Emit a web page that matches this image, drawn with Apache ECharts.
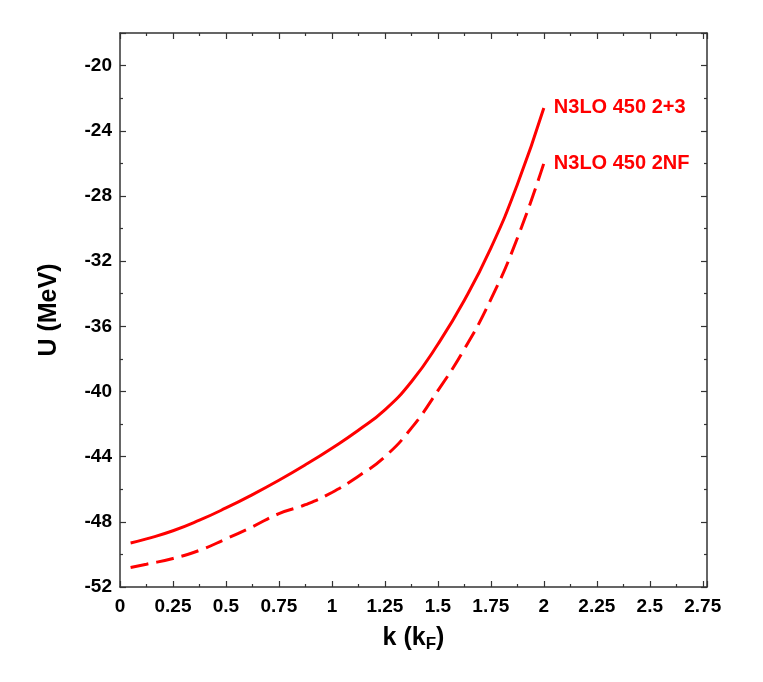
<!DOCTYPE html>
<html>
<head>
<meta charset="utf-8">
<script src="https://cdn.jsdelivr.net/npm/echarts@6/dist/echarts.min.js"></script>
<style>
  html, body { margin: 0; padding: 0; background: #fff; }
  #chart { width: 763px; height: 682px; }
</style>
</head>
<body>
<div id="chart"></div>
<script>
// k in units of k_F, U in MeV
var kSolid = [0.05, 0.125, 0.25, 0.375, 0.5, 0.625, 0.75, 0.875, 1.0, 1.125, 1.25, 1.375, 1.5, 1.625, 1.75, 1.875, 2.0];
var uSolid = [-49.3, -49.05, -48.55, -47.9, -47.15, -46.33, -45.45, -44.5, -43.48, -42.38, -41.13, -39.4, -37.1, -34.4, -31.2, -27.3, -22.6];

var kDashed = [0.05, 0.125, 0.25, 0.375, 0.5, 0.625, 0.75, 0.875, 1.0, 1.125, 1.25, 1.375, 1.5, 1.625, 1.75, 1.875, 2.0];
var uDashed = [-50.8, -50.6, -50.25, -49.75, -49.05, -48.3, -47.5, -46.95, -46.2, -45.2, -44.0, -42.25, -39.95, -37.4, -34.35, -30.6, -26.0];

var seriesNames = ['N3LO 450 2+3', 'N3LO 450 2NF'];

var xRange = [0, 2.77];
var yRange = [-52, -18];

function pairs(xs, ys) {
    var out = [];
    for (var i = 0; i < xs.length; i++) out.push([xs[i], ys[i]]);
    return out;
}

var axisColor = '#333';
var fontFam = 'Liberation Sans, Arial, sans-serif';

function makeX(main) {
    return {
        type: 'value',
        position: main ? 'bottom' : 'top',
        min: xRange[0],
        max: xRange[1],
        interval: 0.25,
        name: main ? '{a|k (k}{b|F}{a|)}' : '',
        nameLocation: 'middle',
        nameGap: 37,
        nameTextStyle: {
            rich: {
                a: { fontSize: 25, fontWeight: 'bold', color: '#000', fontFamily: fontFam },
                b: { fontSize: 17, fontWeight: 'bold', color: '#000', fontFamily: fontFam, padding: [12, 0, 0, 0] }
            }
        },
        axisLine: { show: true, onZero: false, lineStyle: { color: axisColor, width: 1.5 } },
        axisTick: { show: true, inside: true, length: 6, lineStyle: { color: axisColor, width: 1.2 } },
        minorTick: { show: true, splitNumber: 2, length: 3, lineStyle: { color: axisColor, width: 1.2 } },
        splitLine: { show: false },
        axisLabel: {
            show: main,
            showMaxLabel: false,
            margin: 10,
            fontSize: 19,
            fontWeight: 'bold',
            color: '#000',
            fontFamily: fontFam
        }
    };
}

function makeY(main) {
    return {
        type: 'value',
        position: main ? 'left' : 'right',
        min: yRange[0],
        max: yRange[1],
        interval: 4,
        name: main ? 'U (MeV)' : '',
        nameLocation: 'middle',
        nameGap: 58,
        nameTextStyle: { fontSize: 25, fontWeight: 'bold', color: '#000', fontFamily: fontFam },
        axisLine: { show: true, onZero: false, lineStyle: { color: axisColor, width: 1.5 } },
        axisTick: { show: true, inside: true, length: 6, lineStyle: { color: axisColor, width: 1.2 } },
        minorTick: { show: true, splitNumber: 2, length: 3, lineStyle: { color: axisColor, width: 1.2 } },
        splitLine: { show: false },
        axisLabel: {
            show: main,
            showMaxLabel: false,
            margin: 8,
            fontSize: 19,
            fontWeight: 'bold',
            color: '#000',
            fontFamily: fontFam
        }
    };
}

var endLabelStyle = {
    show: true,
    formatter: '{a}',
    distance: 10,
    color: '#ff0000',
    fontSize: 20,
    fontWeight: 'bold',
    fontFamily: fontFam
};

var chart = echarts.init(document.getElementById('chart'));

var option = {
    backgroundColor: '#fff',
    animation: false,
    grid: { left: 120, right: 56, top: 33, bottom: 95 },
    xAxis: [makeX(true), makeX(false)],
    yAxis: [makeY(true), makeY(false)],
    series: [{
        name: seriesNames[0],
        type: 'line',
        data: pairs(kSolid, uSolid),
        smooth: 0.5,
        showSymbol: false,
        lineStyle: { color: '#ff0000', width: 3 },
        endLabel: endLabelStyle
    }, {
        name: seriesNames[1],
        type: 'line',
        data: pairs(kDashed, uDashed),
        smooth: 0.5,
        showSymbol: false,
        lineStyle: { color: '#ff0000', width: 3, type: [18, 8] },
        endLabel: endLabelStyle
    }]
};

chart.setOption(option);
</script>
</body>
</html>
